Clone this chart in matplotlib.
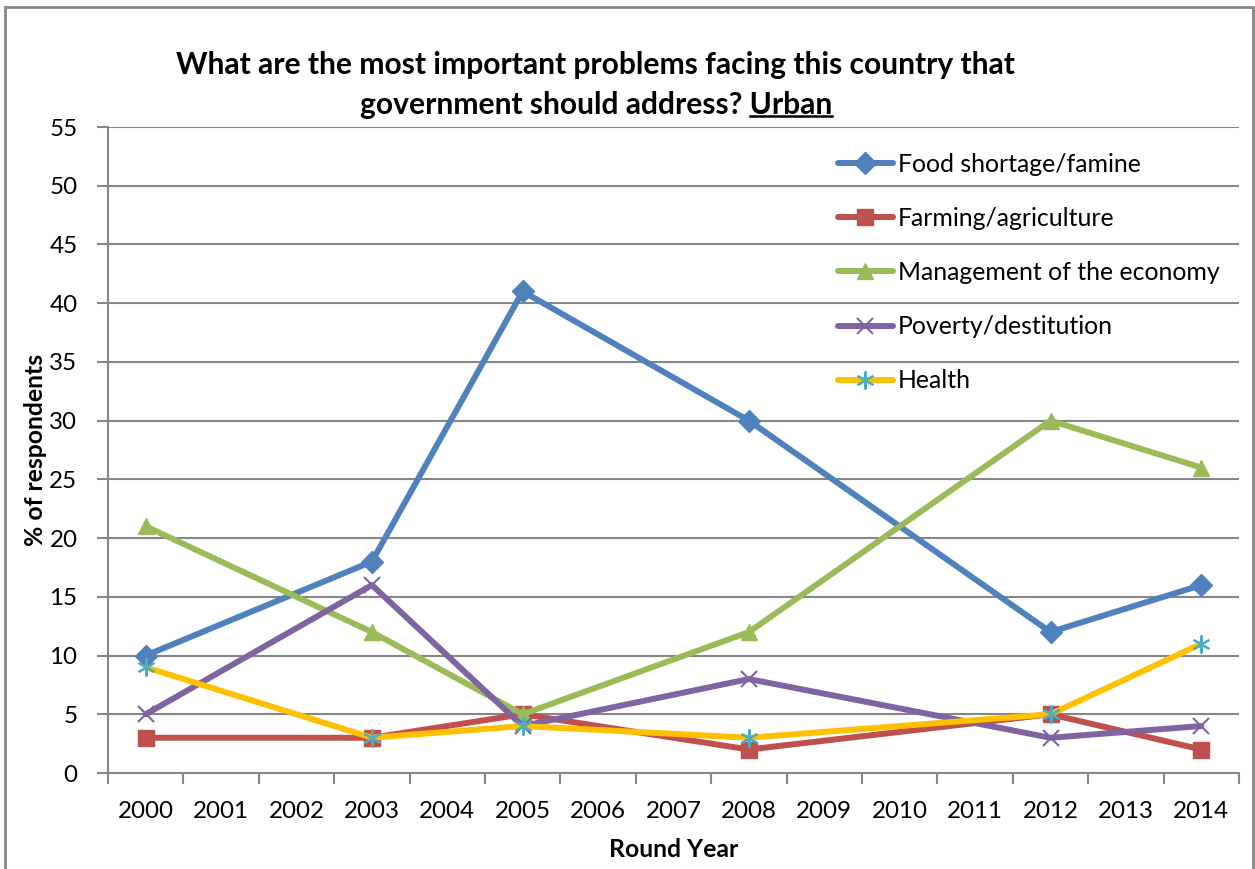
import matplotlib
matplotlib.use("Agg")
import matplotlib.pyplot as plt
from matplotlib.lines import Line2D
from matplotlib.patches import Rectangle
from matplotlib.transforms import IdentityTransform

plt.rcParams['font.family'] = ['Lato', 'DejaVu Sans']

# survey rounds and the categories shown on the x axis
categories = [str(y) for y in range(2000, 2015)]
round_years = [2000, 2003, 2005, 2008, 2012, 2014]

food = [10, 18, 41, 30, 12, 16]
farming = [3, 3, 5, 2, 5, 2]
economy = [21, 12, 5, 12, 30, 26]
poverty = [5, 16, 4, 8, 3, 4]
health = [9, 3, 4, 3, 5, 11]

series_names = ["Food shortage/famine", "Farming/agriculture",
                "Management of the economy", "Poverty/destitution", "Health"]

grey = '#868686'

fig = plt.figure(figsize=(12.55, 8.69), dpi=100)
ax = fig.add_axes([108 / 1255, 1 - 773 / 869, (1239 - 108) / 1255, (773 - 127) / 869])

xpos = [categories.index(str(y)) for y in round_years]

styles = [
    dict(color='#4F81BD', marker='D', ms=11.5, mfc='#4F81BD', mec='#4F81BD'),
    dict(color='#C0504D', marker='s', ms=11, mfc='#C0504D', mec='#C0504D'),
    dict(color='#9BBB59', marker='^', ms=12, mfc='#9BBB59', mec='#9BBB59'),
    dict(color='#8064A2', marker='x', ms=12, mew=1.5, mec='#8064A2'),
    dict(color='#FFC000', marker=(6, 2, 0), ms=13, mew=1.5, mec='#4BACC6'),
]

handles = []
for vals, name, st in zip([food, farming, economy, poverty, health], series_names, styles):
    ln, = ax.plot(xpos, vals, lw=4.3, solid_capstyle='round', label=name, **st)
    handles.append(ln)

ax.set_xlim(-0.5, len(categories) - 0.5)
ax.set_ylim(0, 55)
ax.set_yticks(range(0, 56, 5))
ax.set_xticks(range(len(categories)))
ax.set_xticklabels(categories)
ax.set_xticks([i - 0.5 for i in range(len(categories) + 1)], minor=True)
ax.tick_params(axis='x', which='major', length=0, pad=20, labelsize=17.4)
ax.tick_params(axis='x', which='minor', length=8, width=1.5, color=grey, direction='out')
ax.tick_params(axis='y', length=8, width=1.5, color=grey, pad=14, labelsize=17.4)

ax.yaxis.grid(True, color=grey, lw=1.5)
ax.set_axisbelow(True)
for s in ['top', 'right']:
    ax.spines[s].set_visible(False)
for s in ['left', 'bottom']:
    ax.spines[s].set_color(grey)
    ax.spines[s].set_linewidth(1.5)

ax.set_ylabel("% of respondents", fontsize=17.8, fontweight='bold', labelpad=1.5)
ax.set_xlabel("Round Year", fontsize=17.8, fontweight='bold', labelpad=12)

ax.legend(handles=handles, loc='upper left', bbox_to_anchor=(838 / 1255, 1 - 153 / 869),
          bbox_transform=fig.transFigure, frameon=False, fontsize=17.9,
          handlelength=2.2, handletextpad=0.2, labelspacing=1.25, borderpad=0,
          borderaxespad=0)

# title, with the last word underlined
fig.text(595 / 1255, 1 - 65 / 869, "What are the most important problems facing this country that",
         ha='center', va='center', fontsize=21.6, fontweight='bold')
t2 = fig.text(596 / 1255, 1 - 105 / 869, "government should address? Urban",
              ha='center', va='center', fontsize=21.6, fontweight='bold')
fig.canvas.draw()
renderer = fig.canvas.get_renderer()
bb = t2.get_window_extent(renderer)
tw = fig.text(0, 0, "Urban", fontsize=21.6, fontweight='bold', alpha=0)
w = tw.get_window_extent(renderer).width
fig.add_artist(Line2D([bb.x1 - w, bb.x1], [bb.y0 + 3, bb.y0 + 3], color='black', lw=1.8,
                      transform=IdentityTransform()))

# outer chart frame
fig.add_artist(Rectangle((5 / 1255, -0.05), 1248 / 1255, 1.05 - 7 / 869, transform=fig.transFigure,
                         fill=False, edgecolor=grey, lw=2))

fig.savefig("out.png", dpi=100)
